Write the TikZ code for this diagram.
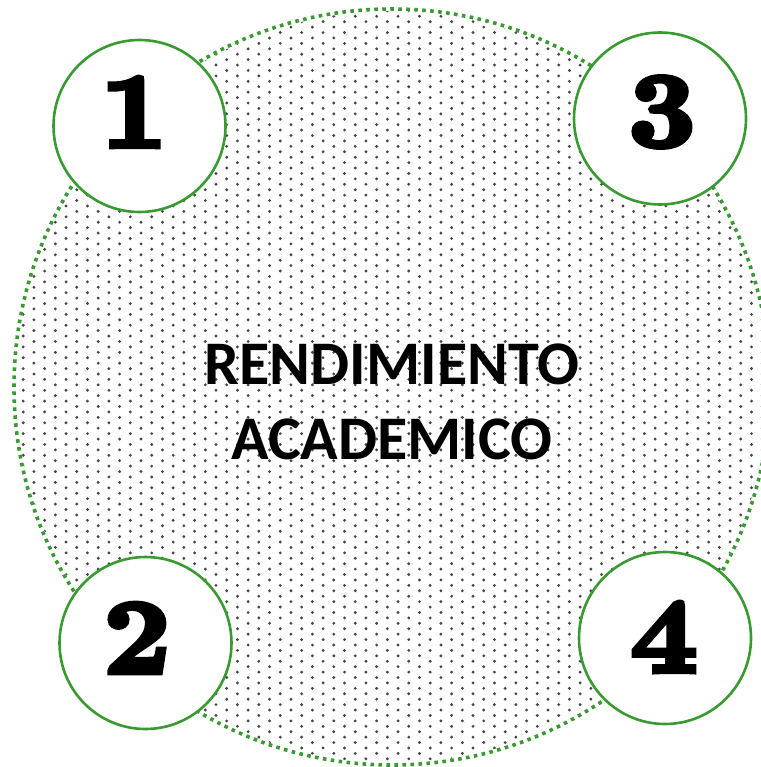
\documentclass[tikz,border=0pt]{standalone}
\usepackage{fontspec}
\setmainfont{Carlito}
\newfontfamily\numfont{lmroman10-bold.otf}[FakeBold=5,FakeStretch=1.1]
\definecolor{grn}{RGB}{58,154,50}
\definecolor{dotc}{RGB}{70,70,70}
\tikzset{
  smallring/.style={circle, draw=grn, line width=2.6pt, fill=white, minimum size=172pt, inner sep=0pt},
  numtext/.style={font=\numfont\fontsize{106}{106}\selectfont, inner sep=0pt, text=black},
  bigring/.style={draw=grn, line width=3.6pt, dash pattern=on 3.6pt off 4.4pt},
  titletext/.style={font=\bfseries\fontsize{62}{75}\selectfont, align=center, text=black, inner sep=0pt}
}
\begin{document}
\begin{tikzpicture}[x=1pt,y=-1pt]
\useasboundingbox (0,0) rectangle (760,767);
\fill[white] (0,0) rectangle (760,767);
\coordinate (C) at (392,387);
% dotted fill
\begin{scope}
  \clip (C) circle (376pt);
  \foreach \i in {0,...,71}{
    \pgfmathsetmacro{\xx}{1.8+\i*10.71}
    \pgfmathsetmacro{\yoff}{mod(\i,2)*5.42}
    \foreach \m in {0,...,71}{
      \fill[dotc] (\xx,{0.02+\yoff+\m*10.84}) circle (1.6pt);
    }
  }
\end{scope}
\draw[bigring] (C) circle (378pt);
% title
\node[titletext] (title) at (392,402) {RENDIMIENTO\\ACADEMICO};
% small circles
\node[smallring] (c1) at (139.5,126) {};
\node[smallring] (c3) at (660,118.5) {};
\node[smallring] (c2) at (145.5,643) {};
\node[smallring] (c4) at (665,638) {};
\node[numtext] (n1) at (134,112) {1};
\node[numtext] (n3) at (662,112) {3};
\node[numtext] (n2) at (137,638) {2};
\node[numtext] (n4) at (664,637) {4};
\end{tikzpicture}
\end{document}
